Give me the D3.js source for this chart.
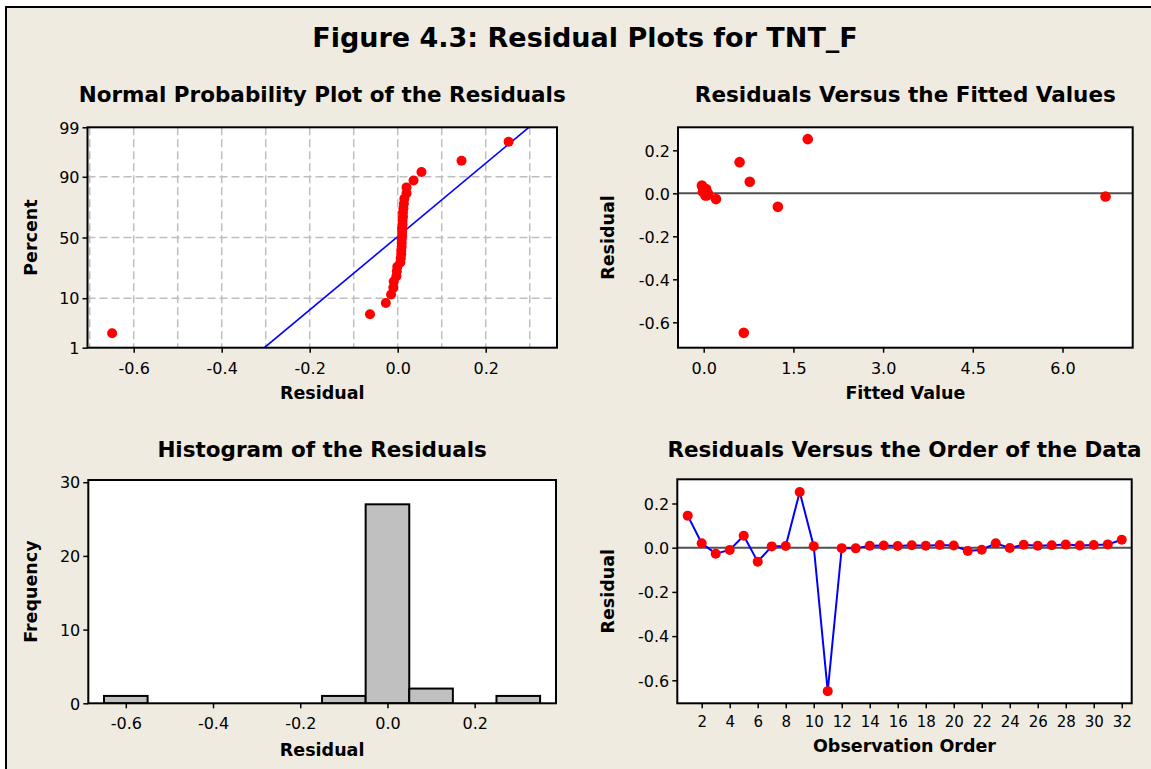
<!DOCTYPE html>
<html><head><meta charset="utf-8">
<script src="https://cdn.jsdelivr.net/npm/d3@7"></script>
<style>
html,body{margin:0;padding:0;background:#fff;}
svg{display:block;}
text{font-family:"DejaVu Sans",Verdana,sans-serif;fill:#000;}
</style>
</head><body>
<svg id="chart" width="1151" height="769"></svg>
<script>
// ---------------- data ----------------
const residuals = [0.145, 0.020, -0.027, -0.010, 0.054, -0.063, 0.006, 0.008, 0.252, 0.007,
  -0.649, -0.002, -0.003, 0.009, 0.010, 0.008, 0.011, 0.009, 0.012, 0.010,
  -0.015, -0.009, 0.020, -0.001, 0.013, 0.009, 0.011, 0.014, 0.010, 0.012, 0.015, 0.036];
const fittedValues = [0.60, 0.02, 0.205, 0.03, 0.77, 1.24, 0.00, 0.01, 1.74, -0.01,
  0.67, 0.05, 0.04, 0.00, 0.02, -0.01, 0.03, 0.01, 0.00, 0.02,
  6.72, 0.06, 0.04, 0.07, 0.01, 0.00, 0.03, 0.02, 0.01, 0.00, 0.04, -0.03];
const observationOrder = residuals.map((d, i) => i + 1);
const histBinCenters = [-0.6, -0.5, -0.4, -0.3, -0.2, -0.1, 0.0, 0.1, 0.2, 0.3];
const histCounts = [1, 0, 0, 0, 0, 1, 27, 2, 0, 1];
const histBinWidth = 0.1;

const nppXTicks = [-0.6, -0.4, -0.2, 0.0, 0.2];
const nppXTickLabels = ["-0.6", "-0.4", "-0.2", "0.0", "0.2"];
const nppXGrid = [-0.7, -0.6, -0.5, -0.4, -0.3, -0.2, -0.1, 0.0, 0.1, 0.2, 0.3];
const nppYTicks = [1, 10, 50, 90, 99];
const nppYTickLabels = ["1", "10", "50", "90", "99"];
const nppYGrid = [10, 50, 90];
const fitXTicks = [0, 1.5, 3.0, 4.5, 6.0];
const fitXTickLabels = ["0.0", "1.5", "3.0", "4.5", "6.0"];
const residYTicks = [0.2, 0.0, -0.2, -0.4, -0.6];
const residYTickLabels = ["0.2", "0.0", "-0.2", "-0.4", "-0.6"];
const histXTicks = [-0.6, -0.4, -0.2, 0.0, 0.2];
const histXTickLabels = ["-0.6", "-0.4", "-0.2", "0.0", "0.2"];
const histYTicks = [0, 10, 20, 30];
const histYTickLabels = ["0", "10", "20", "30"];
const orderXTicks = [2, 4, 6, 8, 10, 12, 14, 16, 18, 20, 22, 24, 26, 28, 30, 32];
const orderXTickLabels = ["2","4","6","8","10","12","14","16","18","20","22","24","26","28","30","32"];

const mainTitle = "Figure 4.3: Residual Plots for TNT_F";
const panelTitles = ["Normal Probability Plot of the Residuals", "Residuals Versus the Fitted Values",
  "Histogram of the Residuals", "Residuals Versus the Order of the Data"];
const axisTitles = {npX:"Residual", npY:"Percent", fvX:"Fitted Value", fvY:"Residual",
  hX:"Residual", hY:"Frequency", oX:"Observation Order", oY:"Residual"};

// ---------------- helpers ----------------
function qnorm(p){
  const a=[-3.969683028665376e+01,2.209460984245205e+02,-2.759285104469687e+02,1.383577518672690e+02,-3.066479806614716e+01,2.506628277459239e+00];
  const b=[-5.447609879822406e+01,1.615858368580409e+02,-1.556989798598866e+02,6.680131188771972e+01,-1.328068155288572e+01];
  const c=[-7.784894002430293e-03,-3.223964580411365e-01,-2.400758277161838e+00,-2.549732539343734e+00,4.374664141464968e+00,2.938163982698783e+00];
  const d=[7.784695709041462e-03,3.224671290700398e-01,2.445134137142996e+00,3.754408661907416e+00];
  const pl=0.02425; let q,r;
  if(p<pl){q=Math.sqrt(-2*Math.log(p));return (((((c[0]*q+c[1])*q+c[2])*q+c[3])*q+c[4])*q+c[5])/((((d[0]*q+d[1])*q+d[2])*q+d[3])*q+1);}
  if(p<=1-pl){q=p-0.5;r=q*q;return (((((a[0]*r+a[1])*r+a[2])*r+a[3])*r+a[4])*r+a[5])*q/(((((b[0]*r+b[1])*r+b[2])*r+b[3])*r+b[4])*r+1);}
  q=Math.sqrt(-2*Math.log(1-p));return -(((((c[0]*q+c[1])*q+c[2])*q+c[3])*q+c[4])*q+c[5])/((((d[0]*q+d[1])*q+d[2])*q+d[3])*q+1);
}

const svg = d3.select("#chart");
const BG = "#EFEBE0";
const TICK_FS = 16, AXT_FS = 17.5, PT_FS = 21.5;
const RED = "#FF0000", BLUE = "#0000FF";

// outer frame
svg.append("rect").attr("x",6).attr("y",7).attr("width",1200).attr("height",800)
  .attr("fill",BG).attr("stroke","#000").attr("stroke-width",2);

svg.append("text").attr("x",585).attr("y",46.5).attr("text-anchor","middle")
  .attr("font-size",27).attr("font-weight","bold").text(mainTitle);

let clipN = 0;
function panel(box, xs, ys, o){
  const g = svg.append("g");
  g.append("rect").attr("x",box.x0).attr("y",box.y0).attr("width",box.x1-box.x0).attr("height",box.y1-box.y0)
    .attr("fill","#fff");
  const id = "clip"+(clipN++);
  svg.append("clipPath").attr("id",id).append("rect")
    .attr("x",box.x0).attr("y",box.y0).attr("width",box.x1-box.x0).attr("height",box.y1-box.y0);
  const inner = g.append("g").attr("clip-path","url(#"+id+")");
  const xa = g.append("g").attr("transform","translate(0,"+box.y1+")")
    .call(d3.axisBottom(xs).tickValues(o.xTicks).tickFormat((d,i)=>o.xLabels[i]).tickSize(5).tickSizeOuter(0));
  xa.select(".domain").remove();
  xa.selectAll("line").attr("stroke","#000").attr("stroke-width",1.5);
  xa.selectAll("text").attr("y",o.xLabelOff||26).attr("dy",null).attr("font-size",o.xFs||TICK_FS)
    .attr("font-family","DejaVu Sans").attr("fill","#000");
  const ya = g.append("g").attr("transform","translate("+box.x0+",0)")
    .call(d3.axisLeft(ys).tickValues(o.yTicks).tickFormat((d,i)=>o.yLabels[i]).tickSize(5).tickSizeOuter(0));
  ya.select(".domain").remove();
  ya.selectAll("line").attr("stroke","#000").attr("stroke-width",1.5);
  ya.selectAll("text").attr("x",-8).attr("dy","0.36em").attr("font-size",TICK_FS)
    .attr("font-family","DejaVu Sans").attr("fill","#000");
  svg.append("text").attr("x",(box.x0+box.x1)/2).attr("y",o.titleY)
    .attr("text-anchor","middle").attr("font-size",PT_FS).attr("font-weight","bold").text(o.title);
  svg.append("text").attr("x",(box.x0+box.x1)/2).attr("y",o.xTitleY)
    .attr("text-anchor","middle").attr("font-size",AXT_FS).attr("font-weight","bold").text(o.xTitle);
  svg.append("text").attr("transform","translate("+o.yTitleX+","+((box.y0+box.y1)/2)+") rotate(-90)")
    .attr("text-anchor","middle").attr("font-size",AXT_FS).attr("font-weight","bold").text(o.yTitle);
  return {g, inner, frame(){
    g.append("rect").attr("x",box.x0).attr("y",box.y0).attr("width",box.x1-box.x0).attr("height",box.y1-box.y0)
      .attr("fill","none").attr("stroke","#000").attr("stroke-width",2);
  }};
}

// ---------------- Panel 1: normal probability plot ----------------
{
  const box = {x0:87.5, x1:557, y0:127.3, y1:347.7};
  const x = d3.scaleLinear().domain([-0.705, 0.362]).range([box.x0, box.x1]);
  const z = d3.scaleLinear().domain([qnorm(0.01), qnorm(0.99)]).range([box.y1, box.y0]);
  const yPct = d3.scaleLinear().domain([qnorm(0.01), qnorm(0.99)]).range([box.y1, box.y0]);
  const yAxisScale = v => z(qnorm(v/100));
  yAxisScale.copy = () => yAxisScale; yAxisScale.range = () => [box.y1, box.y0];
  yAxisScale.domain = () => [1, 99];
  const P = panel(box, x, yAxisScale, {xTicks:nppXTicks, xLabels:nppXTickLabels, yTicks:nppYTicks, yLabels:nppYTickLabels,
    title:panelTitles[0], titleY:101.5, xTitle:axisTitles.npX, xTitleY:399, yTitle:axisTitles.npY, yTitleX:37});
  // grid
  P.inner.selectAll(".gx").data(nppXGrid).join("line")
    .attr("x1",d=>x(d)).attr("x2",d=>x(d)).attr("y1",box.y0).attr("y2",box.y1)
    .attr("stroke","#BEBEBE").attr("stroke-width",1.5).attr("stroke-dasharray","8,4");
  P.inner.selectAll(".gy").data(nppYGrid).join("line")
    .attr("x1",box.x0).attr("x2",box.x1).attr("y1",d=>z(qnorm(d/100))).attr("y2",d=>z(qnorm(d/100)))
    .attr("stroke","#BEBEBE").attr("stroke-width",1.5).attr("stroke-dasharray","8,4");
  // fitted normal line
  const mu = d3.mean(residuals), sd = d3.deviation(residuals);
  const zEnds = [qnorm(0.01), qnorm(0.99)];
  P.inner.append("line")
    .attr("x1",x(mu+zEnds[0]*sd)).attr("y1",z(zEnds[0]))
    .attr("x2",x(mu+zEnds[1]*sd)).attr("y2",z(zEnds[1]))
    .attr("stroke",BLUE).attr("stroke-width",1.6);
  const sorted = residuals.slice().sort(d3.ascending);
  const n = sorted.length;
  P.inner.selectAll(".pt").data(sorted).join("circle")
    .attr("cx",d=>x(d)).attr("cy",(d,i)=>z(qnorm((i+1-0.3)/(n+0.4)))).attr("r",5).attr("fill",RED);
  P.frame();
}

// ---------------- Panel 2: residuals vs fitted ----------------
{
  const box = {x0:678, x1:1132.7, y0:127.3, y1:347.7};
  const x = d3.scaleLinear().domain([-0.43, 7.174]).range([box.x0, box.x1]);
  const y = d3.scaleLinear().domain([-0.718, 0.307]).range([box.y1, box.y0]);
  const P = panel(box, x, y, {xTicks:fitXTicks, xLabels:fitXTickLabels, yTicks:residYTicks, yLabels:residYTickLabels,
    title:panelTitles[1], titleY:101.5, xTitle:axisTitles.fvX, xTitleY:399, yTitle:axisTitles.fvY, yTitleX:614});
  P.inner.append("line").attr("x1",box.x0).attr("x2",box.x1).attr("y1",y(0)).attr("y2",y(0))
    .attr("stroke","#505050").attr("stroke-width",2);
  P.inner.selectAll(".pt").data(residuals).join("circle")
    .attr("cx",(d,i)=>x(fittedValues[i])).attr("cy",d=>y(d)).attr("r",5.3).attr("fill",RED);
  P.frame();
}

// ---------------- Panel 3: histogram ----------------
{
  const box = {x0:88.3, x1:556, y0:480, y1:703.3};
  const x = d3.scaleLinear().domain([-0.686, 0.3865]).range([box.x0, box.x1]);
  const y = d3.scaleLinear().domain([0, 30.3]).range([box.y1, box.y0]);
  const P = panel(box, x, y, {xTicks:histXTicks, xLabels:histXTickLabels, yTicks:histYTicks, yLabels:histYTickLabels,
    title:panelTitles[2], titleY:457, xTitle:axisTitles.hX, xTitleY:756, yTitle:axisTitles.hY, yTitleX:37});
  P.inner.selectAll(".bar").data(histCounts).join("rect")
    .attr("x",(d,i)=>x(histBinCenters[i]-histBinWidth/2))
    .attr("width",(d,i)=>x(histBinCenters[i]+histBinWidth/2)-x(histBinCenters[i]-histBinWidth/2))
    .attr("y",d=>y(d)).attr("height",d=>y(0)-y(d))
    .attr("fill","#C0C0C0").attr("stroke","#000").attr("stroke-width",2);
  P.frame();
}

// ---------------- Panel 4: residuals vs order ----------------
{
  const box = {x0:677.3, x1:1131.7, y0:479.3, y1:703.3};
  const x = d3.scaleLinear().domain([0.257, 32.71]).range([box.x0, box.x1]);
  const y = d3.scaleLinear().domain([-0.704, 0.3095]).range([box.y1, box.y0]);
  const P = panel(box, x, y, {xTicks:orderXTicks, xLabels:orderXTickLabels, yTicks:residYTicks, yLabels:residYTickLabels,
    xFs:15, xLabelOff:23.5,
    title:panelTitles[3], titleY:457, xTitle:axisTitles.oX, xTitleY:752, yTitle:axisTitles.oY, yTitleX:614});
  P.inner.append("line").attr("x1",box.x0).attr("x2",box.x1).attr("y1",y(0)).attr("y2",y(0))
    .attr("stroke","#505050").attr("stroke-width",2);
  P.inner.append("path").datum(residuals)
    .attr("d",d3.line().x((d,i)=>x(observationOrder[i])).y(d=>y(d)))
    .attr("fill","none").attr("stroke",BLUE).attr("stroke-width",2);
  P.inner.selectAll(".pt").data(residuals).join("circle")
    .attr("cx",(d,i)=>x(observationOrder[i])).attr("cy",d=>y(d)).attr("r",5).attr("fill",RED);
  P.frame();
}
</script>
</body></html>
